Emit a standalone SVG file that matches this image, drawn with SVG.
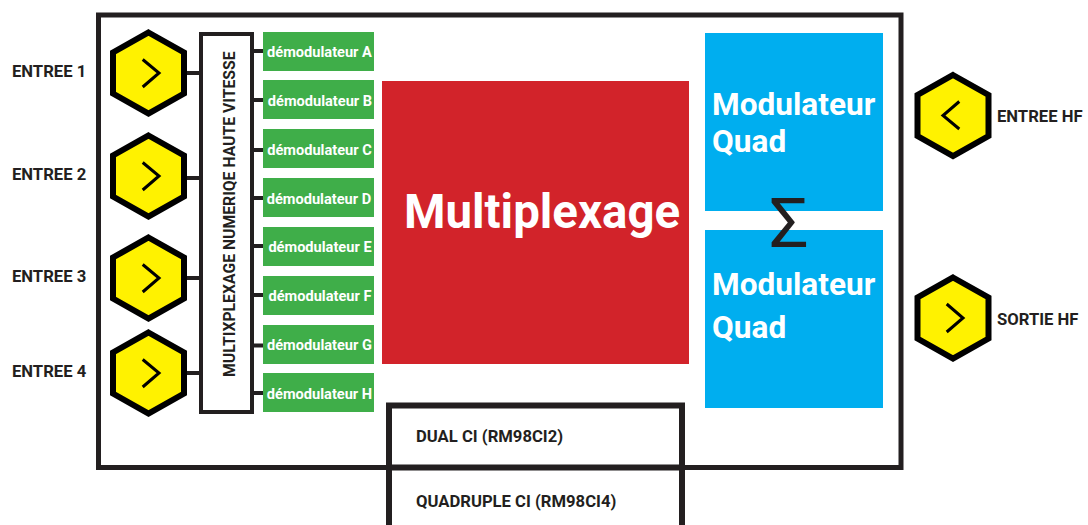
<svg xmlns="http://www.w3.org/2000/svg" xmlns:xlink="http://www.w3.org/1999/xlink" width="1088" height="525" viewBox="0 0 1088 525">
<style>
text{font-family:Roboto,"Liberation Sans",sans-serif;font-weight:700}
.lbl{font-size:16.65px;fill:#231f20}
.dem{font-size:14.6px;fill:#fff;text-anchor:middle}
.green{fill:#3fae49}
.blue{fill:#00aeef}
.mod{font-size:31.6px;fill:#fff}
.box{fill:none;stroke:#231f20}
.conn{stroke:#231f20;stroke-width:4;fill:none}
</style>
<defs>
<g id="hex"><polygon points="0,-40.5 35.5,-20.5 35.5,20.5 0,40.5 -35.5,20.5 -35.5,-20.5" fill="#fff200" stroke="#000" stroke-width="6"/></g>
</defs>
<rect width="1088" height="525" fill="#fff"/>
<rect id="frame" class="box" x="98.5" y="15" width="802.5" height="452.5" stroke-width="5"/>
<g id="connectors">
<path class="conn" d="M184 73H201M184 178H201M184 278H201M184 373H201"/>
<path class="conn" d="M252 51H263M252 100H263M252 150H263M252 198H263M252 246H263M252 295H263M252 345.500H263M252 393H263"/>
</g>
<g id="in1"><use xlink:href="#hex" href="#hex" x="148.500" y="73"/><path class="arrow" d="M142.700 59.500L159 73L142.700 87" fill="none" stroke="#000" stroke-width="3"/><text class="lbl" x="12" y="77">ENTREE 1</text></g>
<g id="in2"><use xlink:href="#hex" href="#hex" x="148.500" y="176"/><path d="M142.700 162.500L159 176L142.700 190" fill="none" stroke="#000" stroke-width="3"/><text class="lbl" x="12" y="180">ENTREE 2</text></g>
<g id="in3"><use xlink:href="#hex" href="#hex" x="148.500" y="278"/><path d="M142.700 264.500L159 278L142.700 292" fill="none" stroke="#000" stroke-width="3"/><text class="lbl" x="12" y="282">ENTREE 3</text></g>
<g id="in4"><use xlink:href="#hex" href="#hex" x="148.500" y="373"/><path d="M142.700 359.500L159 373L142.700 387" fill="none" stroke="#000" stroke-width="3"/><text class="lbl" x="12" y="377">ENTREE 4</text></g>
<g id="mux"><rect x="201" y="34" width="51" height="378" fill="#fff" stroke="#231f20" stroke-width="4"/><text transform="translate(235,377) rotate(-90)" x="0" y="0" font-size="15.75" fill="#231f20">MULTIXPLEXAGE NUMERIQE HAUTE VITESSE</text></g>
<g id="demA"><rect class="green" x="263" y="32" width="111" height="39"/><text class="dem" x="319.500" y="57">démodulateur A</text></g>
<g id="demB"><rect class="green" x="263" y="80" width="111" height="39"/><text class="dem" x="320" y="106">démodulateur B</text></g>
<g id="demC"><rect class="green" x="263" y="129" width="111" height="39"/><text class="dem" x="319.500" y="155">démodulateur C</text></g>
<g id="demD"><rect class="green" x="263" y="178" width="111" height="39"/><text class="dem" x="319" y="204">démodulateur D</text></g>
<g id="demE"><rect class="green" x="263" y="227" width="111" height="39"/><text class="dem" x="320" y="252">démodulateur E</text></g>
<g id="demF"><rect class="green" x="263" y="276" width="111" height="39"/><text class="dem" x="320" y="301">démodulateur F</text></g>
<g id="demG"><rect class="green" x="263" y="325" width="111" height="39"/><text class="dem" x="319.500" y="350">démodulateur G</text></g>
<g id="demH"><rect class="green" x="263" y="373" width="111" height="39"/><text class="dem" x="319.500" y="399">démodulateur H</text></g>
<g id="multiplexage"><rect x="382" y="81" width="307" height="283" fill="#d2232a"/><text x="404" y="228" font-size="47.4" fill="#fff">Multiplexage</text></g>
<g id="mod1"><rect class="blue" x="705" y="33" width="178" height="178"/><text class="mod" x="712" y="115">Modulateur</text><text class="mod" x="712" y="152">Quad</text></g>
<g id="mod2"><rect class="blue" x="705" y="230" width="178" height="178"/><text class="mod" x="712" y="295">Modulateur</text><text class="mod" x="712" y="338">Quad</text></g>
<g id="sigma"><text x="789" y="247" font-size="69" fill="#231f20" text-anchor="middle" style="font-weight:400">Σ</text></g>
<g id="ci"><path d="M389 525V405.500H682V525M389 467.500H682" fill="none" stroke="#231f20" stroke-width="6"/><text class="lbl" x="416" y="442">DUAL CI (RM98CI2)</text><text class="lbl" x="416" y="507">QUADRUPLE CI (RM98CI4)</text></g>
<g id="hf-in"><use xlink:href="#hex" href="#hex" x="953" y="115.500"/><path d="M959.300 101.500L943 115.500L959.300 129" fill="none" stroke="#000" stroke-width="3"/><text class="lbl" x="997" y="122">ENTREE HF</text></g>
<g id="hf-out"><use xlink:href="#hex" href="#hex" x="953" y="318"/><path d="M946.700 304L963 318L946.700 332" fill="none" stroke="#000" stroke-width="3"/><text class="lbl" x="997" y="325">SORTIE HF</text></g>
</svg>
